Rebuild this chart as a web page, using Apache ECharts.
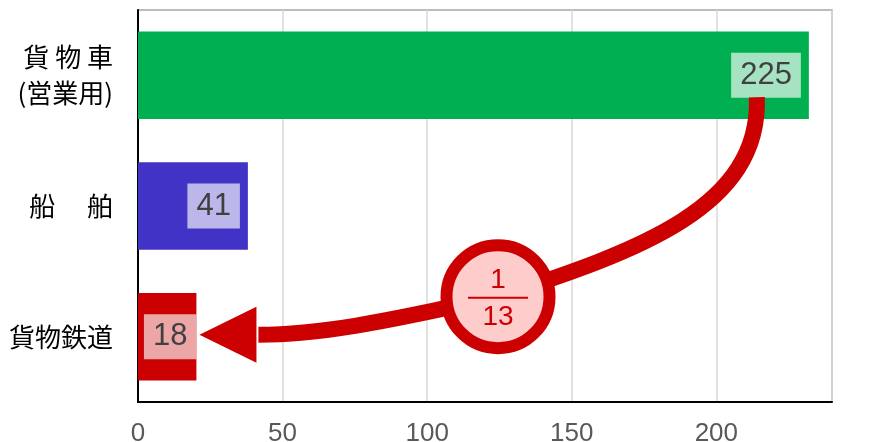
<!DOCTYPE html>
<html lang="ja">
<head>
<meta charset="UTF-8">
<title>貨物輸送</title>
<script src="https://cdn.jsdelivr.net/npm/echarts@6/dist/echarts.min.js"></script>
</head>
<body style="margin:0">
<div id="container" style="width:891px;height:442px;"></div>
<script>
// data
var categories = ['貨 物 車\n(営業用)', '船　 舶', '貨物鉄道'];
var barValues = [232, 38, 20.2];
var barLabels = ['225', '41', '18'];
var barColors = ['#00B050', '#4033C5', '#CC0000'];
var xTicks = [0, 50, 100, 150, 200];
var ratioTop = '1';
var ratioBottom = '13';

var chart = echarts.init(document.getElementById('container'));
var red = '#CC0000';

var seriesData = barValues.map(function (v, i) {
  return {
    value: v,
    itemStyle: { color: barColors[i] },
    label: { distance: i === 2 ? 0 : 8 }
  };
});

chart.setOption({
  animation: false,
  backgroundColor: '#fff',
  grid: {
    left: 138, right: 59, top: 10, bottom: 40,
    containLabel: false, outerBoundsMode: 'none',
    show: true, borderColor: '#a6a6a6', borderWidth: 1.5
  },
  xAxis: {
    type: 'value', min: 0, max: 240, interval: 50,
    axisLine: { show: true, lineStyle: { color: '#000', width: 2 } },
    axisTick: { show: false },
    splitLine: { lineStyle: { color: '#d9d9d9', width: 1.5 } },
    axisLabel: {
      margin: 19, fontSize: 26, color: '#595959', fontFamily: 'Liberation Sans, Arial',
      showMaxLabel: false,
      formatter: function (v) { return xTicks.indexOf(v) >= 0 ? v : ''; }
    }
  },
  yAxis: {
    type: 'category', inverse: true, data: categories,
    axisLine: { show: true, lineStyle: { color: '#000', width: 2 } },
    axisTick: { show: false },
    axisLabel: {
      margin: 25, fontSize: 26, lineHeight: 36, color: '#000',
      fontFamily: 'Noto Sans CJK JP'
    }
  },
  series: [{
    type: 'bar',
    data: seriesData,
    barWidth: '67%',
    label: {
      show: true,
      position: 'insideRight',
      formatter: function (p) { return barLabels[p.dataIndex]; },
      fontSize: 31, lineHeight: 33, color: '#404040',
      fontFamily: 'Liberation Sans, Arial',
      backgroundColor: 'rgba(255,255,255,0.65)',
      padding: [6, 9]
    }
  }]
});

// annotation arrow, anchored on the bars
var p0 = chart.convertToPixel({ gridIndex: 0 }, [barValues[0], 0]);
var p2 = chart.convertToPixel({ gridIndex: 0 }, [barValues[2], 2]);
var start = [p0[0] - 52, p0[1] + 22];
var tip = [p2[0] + 3, p2[1] - 2];
var c = [chart.convertToPixel({ gridIndex: 0 }, [124.5, 2])[0], p2[1] - 40];
var back = [tip[0] + 57, tip[1]];

chart.setOption({
  graphic: [
    {
      type: 'bezierCurve', z: 10,
      shape: {
        x1: start[0], y1: start[1], x2: c[0], y2: c[1],
        cpx1: start[0] + 4, cpy1: start[1] + 110, cpx2: c[0] + 141, cpy2: c[1] - 46
      },
      style: { stroke: red, lineWidth: 16, fill: 'none' }
    },
    {
      type: 'bezierCurve', z: 10,
      shape: {
        x1: c[0], y1: c[1], x2: back[0] + 2, y2: back[1],
        cpx1: c[0] - 120, cpy1: c[1] + 27, cpx2: back[0] + 60, cpy2: back[1]
      },
      style: { stroke: red, lineWidth: 16, fill: 'none' }
    },
    {
      type: 'polygon', z: 10,
      shape: { points: [[tip[0], tip[1]], [back[0], tip[1] - 28], [back[0], tip[1] + 28]] },
      style: { fill: red }
    },
    {
      type: 'circle', z: 11,
      shape: { cx: c[0], cy: c[1], r: 51.5 },
      style: { fill: '#FFCCCC', stroke: red, lineWidth: 12 }
    },
    {
      type: 'text', z: 12, x: c[0], y: c[1] - 16,
      style: { text: ratioTop, fill: red, fontSize: 28, fontFamily: 'Liberation Sans, Arial', align: 'center', verticalAlign: 'middle' }
    },
    {
      type: 'line', z: 12,
      shape: { x1: c[0] - 30, y1: c[1] + 1, x2: c[0] + 30, y2: c[1] + 1 },
      style: { stroke: red, lineWidth: 2 }
    },
    {
      type: 'text', z: 12, x: c[0], y: c[1] + 21,
      style: { text: ratioBottom, fill: red, fontSize: 28, fontFamily: 'Liberation Sans, Arial', align: 'center', verticalAlign: 'middle' }
    }
  ]
});
</script>
</body>
</html>
